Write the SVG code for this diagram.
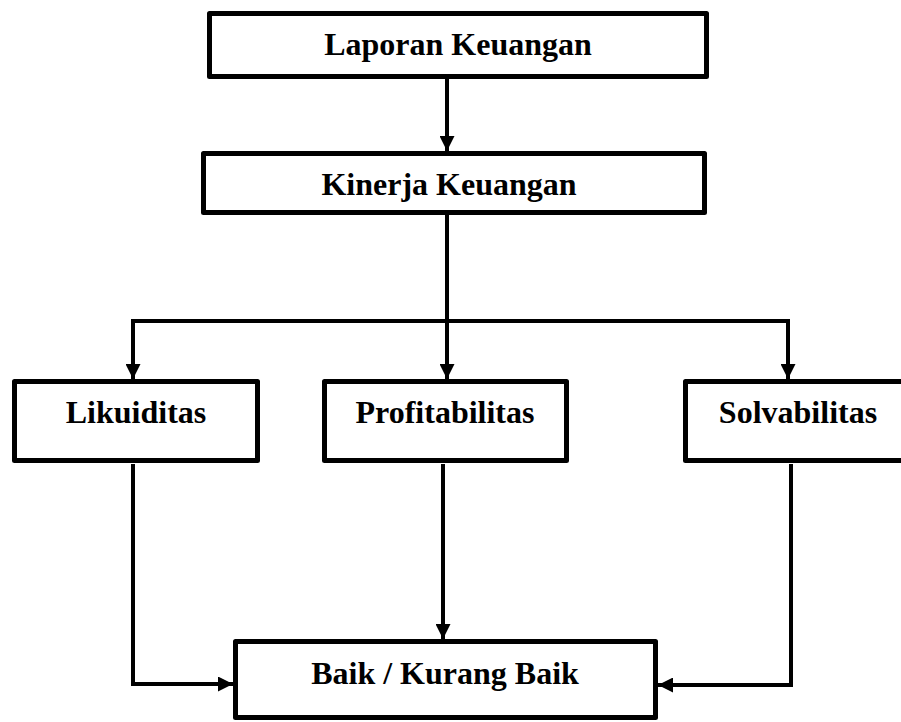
<svg xmlns="http://www.w3.org/2000/svg" width="901" height="722" viewBox="0 0 901 722">
<style>
.box{fill:#fff;stroke:#000;stroke-width:5;stroke-linejoin:round}
.lbl{font-family:"Liberation Serif","Times New Roman",serif;font-weight:bold;font-size:32px;fill:#000;text-anchor:middle}
.con{fill:none;stroke:#000;stroke-width:4}
</style>
<defs>
<marker id="ah" markerUnits="userSpaceOnUse" markerWidth="15" markerHeight="15" refX="15" refY="7.5" orient="auto">
<path d="M0,0 L15,7.5 L0,15 z" fill="#000"/>
</marker>
</defs>
<rect width="901" height="722" fill="#fff"/>
<g id="laporan">
<rect class="box" x="209.5" y="13.5" width="497" height="63"/>
<text class="lbl" x="458" y="55">Laporan Keuangan</text>
</g>
<g id="kinerja">
<rect class="box" x="203.5" y="153.5" width="501" height="59"/>
<text class="lbl" x="449" y="195">Kinerja Keuangan</text>
</g>
<g id="likuiditas">
<rect class="box" x="14.5" y="381.5" width="243" height="79"/>
<text class="lbl" x="136" y="423">Likuiditas</text>
</g>
<g id="profitabilitas">
<rect class="box" x="324.5" y="381.5" width="242" height="79"/>
<text class="lbl" x="445" y="423">Profitabilitas</text>
</g>
<g id="solvabilitas">
<rect class="box" x="685.5" y="381.5" width="225" height="79"/>
<text class="lbl" x="798" y="423">Solvabilitas</text>
</g>
<g id="baik">
<rect class="box" x="235.5" y="641.5" width="420" height="76"/>
<text class="lbl" x="445" y="684">Baik / Kurang Baik</text>
</g>
<g id="connectors">
<line class="con" x1="447" y1="79" x2="447" y2="151" marker-end="url(#ah)"/>
<line class="con" x1="447" y1="215" x2="447" y2="379" marker-end="url(#ah)"/>
<polyline class="con" points="133,379 133,321 788,321"/>
<line class="con" x1="133" y1="321" x2="133" y2="379" marker-end="url(#ah)"/>
<polyline class="con" points="786,321 788,321 788,379" marker-end="url(#ah)"/>
<polyline class="con" points="133,464 133,684 233,684" marker-end="url(#ah)"/>
<line class="con" x1="443" y1="464" x2="443" y2="639" marker-end="url(#ah)"/>
<polyline class="con" points="791,464 791,685 658,685" marker-end="url(#ah)"/>
</g>
</svg>
